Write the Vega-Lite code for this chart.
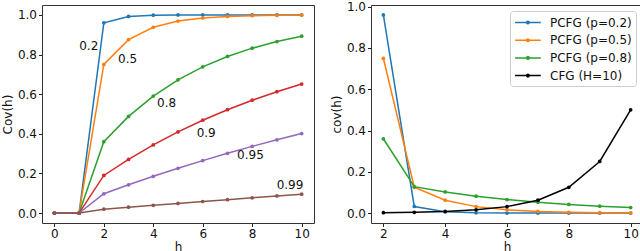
{
  "$schema": "https://vega.github.io/schema/vega-lite/v6.json",
  "padding": 0,
  "config": {
    "font": "DejaVu Sans",
    "view": {"stroke": "#333", "strokeWidth": 1},
    "axis": {"grid": false, "domain": false, "tickColor": "#222", "tickSize": 3.5, "tickWidth": 1, "labelFontSize": 12, "labelColor": "#111", "titleFontSize": 12, "titleColor": "#111", "titleFontWeight": "normal", "labelPadding": 2},
    "concat": {"spacing": 14}
  },
  "resolve": {"scale": {"color": "independent"}, "legend": {"color": "independent"}},
  "datasets": {
    "left": [
      {"p": "0.2", "h": 0, "c": 0}, {"p": "0.2", "h": 1, "c": 0}, {"p": "0.2", "h": 2, "c": 0.96}, {"p": "0.2", "h": 3, "c": 0.992}, {"p": "0.2", "h": 4, "c": 0.9984}, {"p": "0.2", "h": 5, "c": 0.9997}, {"p": "0.2", "h": 6, "c": 0.9999}, {"p": "0.2", "h": 7, "c": 1.0}, {"p": "0.2", "h": 8, "c": 1.0}, {"p": "0.2", "h": 9, "c": 1.0}, {"p": "0.2", "h": 10, "c": 1.0},
      {"p": "0.5", "h": 0, "c": 0}, {"p": "0.5", "h": 1, "c": 0}, {"p": "0.5", "h": 2, "c": 0.75}, {"p": "0.5", "h": 3, "c": 0.875}, {"p": "0.5", "h": 4, "c": 0.9375}, {"p": "0.5", "h": 5, "c": 0.9688}, {"p": "0.5", "h": 6, "c": 0.9844}, {"p": "0.5", "h": 7, "c": 0.9922}, {"p": "0.5", "h": 8, "c": 0.9961}, {"p": "0.5", "h": 9, "c": 0.998}, {"p": "0.5", "h": 10, "c": 0.999},
      {"p": "0.8", "h": 0, "c": 0}, {"p": "0.8", "h": 1, "c": 0}, {"p": "0.8", "h": 2, "c": 0.36}, {"p": "0.8", "h": 3, "c": 0.488}, {"p": "0.8", "h": 4, "c": 0.5904}, {"p": "0.8", "h": 5, "c": 0.6723}, {"p": "0.8", "h": 6, "c": 0.7379}, {"p": "0.8", "h": 7, "c": 0.7903}, {"p": "0.8", "h": 8, "c": 0.8322}, {"p": "0.8", "h": 9, "c": 0.8658}, {"p": "0.8", "h": 10, "c": 0.8926},
      {"p": "0.9", "h": 0, "c": 0}, {"p": "0.9", "h": 1, "c": 0}, {"p": "0.9", "h": 2, "c": 0.19}, {"p": "0.9", "h": 3, "c": 0.271}, {"p": "0.9", "h": 4, "c": 0.3439}, {"p": "0.9", "h": 5, "c": 0.4095}, {"p": "0.9", "h": 6, "c": 0.4686}, {"p": "0.9", "h": 7, "c": 0.5217}, {"p": "0.9", "h": 8, "c": 0.5695}, {"p": "0.9", "h": 9, "c": 0.6126}, {"p": "0.9", "h": 10, "c": 0.6513},
      {"p": "0.95", "h": 0, "c": 0}, {"p": "0.95", "h": 1, "c": 0}, {"p": "0.95", "h": 2, "c": 0.0975}, {"p": "0.95", "h": 3, "c": 0.1426}, {"p": "0.95", "h": 4, "c": 0.1855}, {"p": "0.95", "h": 5, "c": 0.2262}, {"p": "0.95", "h": 6, "c": 0.2649}, {"p": "0.95", "h": 7, "c": 0.3017}, {"p": "0.95", "h": 8, "c": 0.3366}, {"p": "0.95", "h": 9, "c": 0.3698}, {"p": "0.95", "h": 10, "c": 0.4013},
      {"p": "0.99", "h": 0, "c": 0}, {"p": "0.99", "h": 1, "c": 0}, {"p": "0.99", "h": 2, "c": 0.0199}, {"p": "0.99", "h": 3, "c": 0.0297}, {"p": "0.99", "h": 4, "c": 0.0394}, {"p": "0.99", "h": 5, "c": 0.049}, {"p": "0.99", "h": 6, "c": 0.0585}, {"p": "0.99", "h": 7, "c": 0.0679}, {"p": "0.99", "h": 8, "c": 0.0773}, {"p": "0.99", "h": 9, "c": 0.0865}, {"p": "0.99", "h": 10, "c": 0.0956}
    ],
    "labels": [
      {"h": 1.39, "c": 0.845, "t": "0.2"},
      {"h": 2.96, "c": 0.777, "t": "0.5"},
      {"h": 4.54, "c": 0.555, "t": "0.8"},
      {"h": 6.14, "c": 0.405, "t": "0.9"},
      {"h": 7.93, "c": 0.295, "t": "0.95"},
      {"h": 9.53, "c": 0.14, "t": "0.99"}
    ],
    "right": [
      {"s": "PCFG (p=0.2)", "h": 2, "c": 0.96}, {"s": "PCFG (p=0.2)", "h": 3, "c": 0.032}, {"s": "PCFG (p=0.2)", "h": 4, "c": 0.0064}, {"s": "PCFG (p=0.2)", "h": 5, "c": 0.0013}, {"s": "PCFG (p=0.2)", "h": 6, "c": 0.0003}, {"s": "PCFG (p=0.2)", "h": 7, "c": 0.0001}, {"s": "PCFG (p=0.2)", "h": 8, "c": 0}, {"s": "PCFG (p=0.2)", "h": 9, "c": 0}, {"s": "PCFG (p=0.2)", "h": 10, "c": 0},
      {"s": "PCFG (p=0.5)", "h": 2, "c": 0.75}, {"s": "PCFG (p=0.5)", "h": 3, "c": 0.125}, {"s": "PCFG (p=0.5)", "h": 4, "c": 0.0625}, {"s": "PCFG (p=0.5)", "h": 5, "c": 0.0313}, {"s": "PCFG (p=0.5)", "h": 6, "c": 0.0156}, {"s": "PCFG (p=0.5)", "h": 7, "c": 0.0078}, {"s": "PCFG (p=0.5)", "h": 8, "c": 0.0039}, {"s": "PCFG (p=0.5)", "h": 9, "c": 0.002}, {"s": "PCFG (p=0.5)", "h": 10, "c": 0.001},
      {"s": "PCFG (p=0.8)", "h": 2, "c": 0.36}, {"s": "PCFG (p=0.8)", "h": 3, "c": 0.128}, {"s": "PCFG (p=0.8)", "h": 4, "c": 0.1024}, {"s": "PCFG (p=0.8)", "h": 5, "c": 0.0819}, {"s": "PCFG (p=0.8)", "h": 6, "c": 0.0655}, {"s": "PCFG (p=0.8)", "h": 7, "c": 0.0524}, {"s": "PCFG (p=0.8)", "h": 8, "c": 0.0419}, {"s": "PCFG (p=0.8)", "h": 9, "c": 0.0336}, {"s": "PCFG (p=0.8)", "h": 10, "c": 0.0268},
      {"s": "CFG (H=10)", "h": 2, "c": 0.002}, {"s": "CFG (H=10)", "h": 3, "c": 0.0039}, {"s": "CFG (H=10)", "h": 4, "c": 0.0078}, {"s": "CFG (H=10)", "h": 5, "c": 0.0156}, {"s": "CFG (H=10)", "h": 6, "c": 0.0313}, {"s": "CFG (H=10)", "h": 7, "c": 0.0625}, {"s": "CFG (H=10)", "h": 8, "c": 0.125}, {"s": "CFG (H=10)", "h": 9, "c": 0.25}, {"s": "CFG (H=10)", "h": 10, "c": 0.5}
    ]
  },
  "hconcat": [
    {
      "width": 272,
      "height": 218,
      "encoding": {
        "x": {"field": "h", "type": "quantitative", "scale": {"domain": [-0.5, 10.5], "nice": false, "zero": false}, "axis": {"values": [0, 2, 4, 6, 8, 10], "format": "d", "title": "h", "titlePadding": 2}},
        "y": {"field": "c", "type": "quantitative", "scale": {"domain": [-0.05, 1.05], "nice": false, "zero": false}, "axis": {"values": [0, 0.2, 0.4, 0.6, 0.8, 1.0], "format": ".1f", "title": "Cov(h)", "titleX": -35, "titleBaseline": "middle"}}
      },
      "layer": [
        {
          "data": {"name": "left"},
          "mark": {"type": "line", "strokeWidth": 1.5},
          "encoding": {"color": {"field": "p", "type": "nominal", "scale": {"domain": ["0.2", "0.5", "0.8", "0.9", "0.95", "0.99"], "range": ["#1f77b4", "#ff7f0e", "#2ca02c", "#d62728", "#9467bd", "#8c564b"]}, "legend": null}}
        },
        {
          "data": {"name": "left"},
          "mark": {"type": "point", "filled": true, "size": 14, "opacity": 1},
          "encoding": {"color": {"field": "p", "type": "nominal", "legend": null}}
        },
        {
          "data": {"name": "labels"},
          "mark": {"type": "text", "fontSize": 12, "color": "#111", "align": "center", "baseline": "middle"},
          "encoding": {"text": {"field": "t"}}
        }
      ]
    },
    {
      "width": 272,
      "height": 218,
      "data": {"name": "right"},
      "encoding": {
        "x": {"field": "h", "type": "quantitative", "scale": {"domain": [1.6, 10.4], "nice": false, "zero": false}, "axis": {"values": [2, 4, 6, 8, 10], "format": "d", "title": "h", "titlePadding": 2}},
        "y": {"field": "c", "type": "quantitative", "scale": {"domain": [-0.048, 1.008], "nice": false, "zero": false}, "axis": {"values": [0, 0.2, 0.4, 0.6, 0.8, 1.0], "format": ".1f", "title": "cov(h)", "titleX": -35, "titleBaseline": "middle"}},
        "color": {"field": "s", "type": "nominal", "scale": {"domain": ["PCFG (p=0.2)", "PCFG (p=0.5)", "PCFG (p=0.8)", "CFG (H=10)"], "range": ["#1f77b4", "#ff7f0e", "#2ca02c", "#000000"]}}
      },
      "layer": [
        {
          "mark": {"type": "line", "strokeWidth": 1.5},
          "encoding": {"color": {"field": "s", "type": "nominal", "legend": {"orient": "none", "legendX": 139, "legendY": 6, "title": null, "symbolType": "M-1,0H3M0.8,0A0.2,0.2,0,1,0,1.2,0A0.2,0.2,0,1,0,0.8,0", "symbolSize": 165, "symbolStrokeWidth": 1.5, "labelOffset": 21, "rowPadding": 3.7, "padding": 4, "labelFontSize": 12, "labelColor": "#111", "strokeColor": "#cccccc", "fillColor": "rgba(255,255,255,0.8)", "cornerRadius": 3}}}
        },
        {
          "mark": {"type": "point", "filled": true, "size": 14, "opacity": 1},
          "encoding": {"color": {"field": "s", "type": "nominal", "legend": null}}
        }
      ]
    }
  ]
}
